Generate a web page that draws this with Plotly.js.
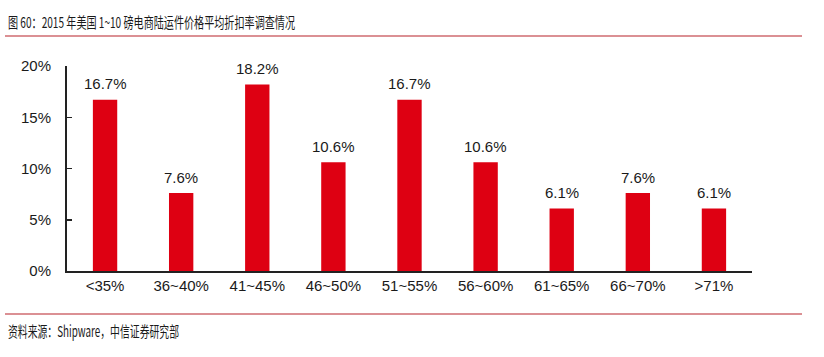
<!DOCTYPE html>
<html><head><meta charset="utf-8">
<script src="https://cdn.plot.ly/plotly-3.0.1.min.js"></script>
<style>html,body{margin:0;padding:0;background:#fff}#c{width:824px;height:357px}</style>
</head><body><div id="c"></div>
<script>
const categories = ['<35%','36~40%','41~45%','46~50%','51~55%','56~60%','61~65%','66~70%','>71%'];
const values = [16.7, 7.6, 18.2, 10.6, 16.7, 10.6, 6.1, 7.6, 6.1];
const labels = values.map(v => v.toFixed(1) + '%');
const titleText = '图 60：2015 年美国 1~10 磅电商陆运件价格平均折扣率调查情况';
const sourceText = '资料来源：Shipware，中信证券研究部';

const L = 67, R = 752, T = 66, B = 271;
const W = 824, H = 357;
const px = x => (x - L) / (R - L);
const py = y => (B - y) / (B - T);
const cjk = '"Noto Sans CJK SC", "Liberation Sans", sans-serif';
const latin = 'Liberation Sans, Arial, sans-serif';

const valueAnnotations = categories.map((c, i) => ({
  x: c, y: values[i], xref: 'x', yref: 'y', text: labels[i], showarrow: false,
  yanchor: 'middle', yshift: 16, font: {family: latin, size: 15, color: '#1a1a1a'}
}));

Plotly.newPlot('c', [{
  type: 'bar', x: categories, y: values,
  marker: {color: '#DE0012'}, hoverinfo: 'none'
}], {
  width: W, height: H,
  margin: {l: L, r: W - R, t: T, b: H - B},
  paper_bgcolor: '#fff', plot_bgcolor: '#fff',
  bargap: 0.68, showlegend: false,
  font: {family: latin, size: 15, color: '#1a1a1a'},
  xaxis: {showline: true, linecolor: '#222', linewidth: 2, ticks: '', showgrid: false,
          tickfont: {size: 15, color: '#1a1a1a'}, fixedrange: true},
  yaxis: {range: [0, 20], dtick: 5, ticksuffix: '%', showline: true, linecolor: '#222', linewidth: 2,
          ticks: 'inside', ticklen: 5, tickwidth: 1.5, tickcolor: '#222', showgrid: false, zeroline: false,
          ticklabelstandoff: 11,
          tickfont: {size: 15, color: '#1a1a1a'}, fixedrange: true},
  shapes: [
    {type: 'line', xref: 'paper', yref: 'paper', x0: px(5), x1: px(802), y0: py(36), y1: py(36),
     line: {color: '#B8232B', width: 1.2}},
    {type: 'line', xref: 'paper', yref: 'paper', x0: px(5), x1: px(802), y0: py(314), y1: py(314),
     line: {color: '#B8232B', width: 1.2}}
  ],
  annotations: valueAnnotations.concat([
    {text: titleText, xref: 'paper', yref: 'paper', x: px(6), y: py(21), xanchor: 'left', yanchor: 'middle',
     showarrow: false, font: {family: cjk, size: 15, color: '#1a1a1a'}},
    {text: sourceText, xref: 'paper', yref: 'paper', x: px(6), y: py(330), xanchor: 'left', yanchor: 'middle',
     showarrow: false, font: {family: cjk, size: 15, color: '#1a1a1a'}}
  ])
}, {displayModeBar: false, staticPlot: true}).then(gd => {
  // condense the title / source text horizontally like the reference's narrow font
  const targets = {};
  targets[titleText] = 287;
  targets[sourceText] = 171;
  gd.querySelectorAll('.annotation-text').forEach(t => {
    const w = targets[t.textContent];
    if (w) {
      t.setAttribute('textLength', w);
      t.setAttribute('lengthAdjust', 'spacingAndGlyphs');
      t.setAttribute('text-anchor', 'start');
      const own = t.getBoundingClientRect();
      t.setAttribute('x', (parseFloat(t.getAttribute('x')) || 0) + (8 - own.left));
    }
  });
});
</script></body></html>
